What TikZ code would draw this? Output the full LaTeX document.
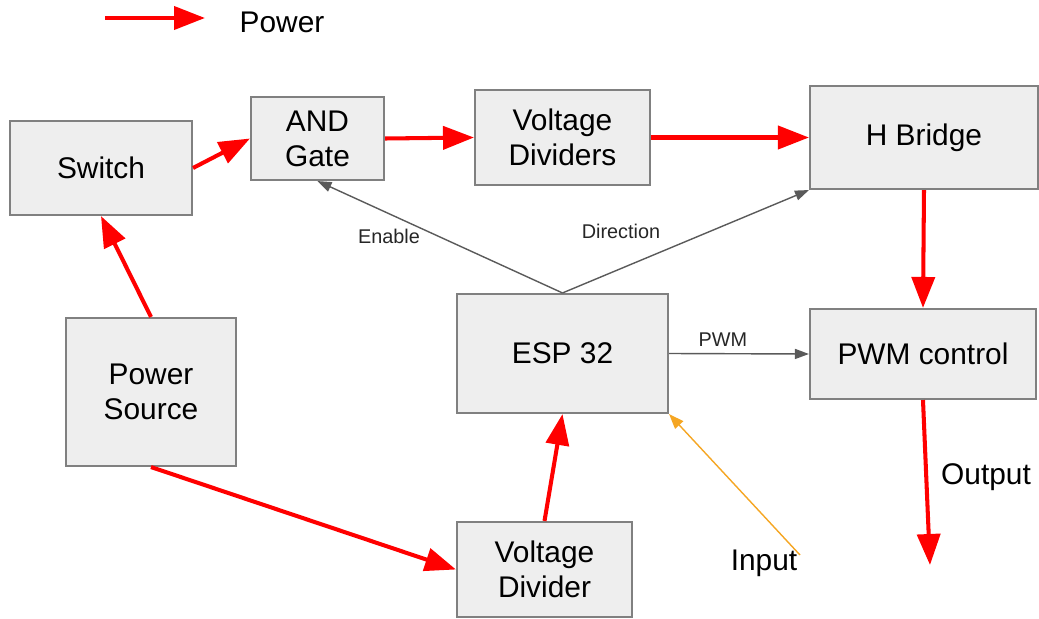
\documentclass[tikz,border=0pt]{standalone}
\usepackage{fontspec}
\setmainfont{Liberation Sans}
\usetikzlibrary{arrows.meta}
\definecolor{boxfill}{HTML}{EEEEEE}
\definecolor{boxline}{HTML}{808080}
\definecolor{sigline}{HTML}{5A5A5A}
\definecolor{pwrred}{HTML}{FF0000}
\definecolor{inorange}{HTML}{F5A623}
\tikzset{
  block/.style={draw=boxline, line width=1.2pt, fill=boxfill, align=center,
    font=\fontsize{17}{20}\selectfont, inner sep=0pt},
  power/.style={draw=pwrred, line width=2.3pt, -{Triangle[length=0.62cm, width=0.46cm]}},
  signal/.style={draw=sigline, line width=0.8pt, -{Triangle[length=0.28cm, width=0.2cm]}},
  label/.style={font=\fontsize{11.3}{13}\selectfont, text=black!85}
}

\begin{document}
\begin{tikzpicture}[x=0.02cm, y=-0.02cm]
                \useasboundingbox (0, 0) rectangle (1039, 619);
                % Blocks:
                \node[block, minimum width=3.64cm, minimum height=1.88cm] (switch) at (101, 168) {Switch};
                \node[block, minimum width=2.66cm, minimum height=1.66cm] (andgate) at (317.5, 138.5) {AND\\Gate};
                \node[block, minimum width=3.5cm, minimum height=1.9cm] (dividers) at (562.5, 137.5) {Voltage\\Dividers};
                \node[block, minimum width=4.56cm, minimum height=2.06cm] (hbridge) at (924, 137.5) {H Bridge};
                \node[block, minimum width=3.4cm, minimum height=2.96cm] (source) at (151, 392) {Power\\Source};
                \node[block, minimum width=4.22cm, minimum height=2.38cm] (esp) at (562.5, 353.5) {ESP 32};
                \node[block, minimum width=4.52cm, minimum height=1.8cm] (pwmctl) at (923, 354) {PWM control};
                \node[block, minimum width=3.5cm, minimum height=1.9cm] (divider) at (544.5, 569.5) {Voltage\\Divider};
                % Free ends:
                \coordinate (legA) at (105, 18);
                \coordinate (legB) at (205, 18);
                \coordinate (outend) at (930, 565);
                \coordinate (inend) at (800, 555);
                % Legend:
                \draw[power] (legA) -- (legB);
                \node[font=\fontsize{17}{20}\selectfont] (legtext) at (282, 22) {Power};
                % Power wires:
                \draw[power] (source.north) -- (switch.south);
                \draw[power] (switch.east) -- (andgate.west);
                \draw[power] (andgate.east) -- (dividers.west);
                \draw[power] (dividers.east) -- (hbridge.west);
                \draw[power] (hbridge.south) -- (pwmctl.north);
                \draw[power] (pwmctl.south) -- (outend);
                \draw[power] (source.south) -- (divider.west);
                \draw[power] (divider.north) -- (esp.south);
                % Signals:
                \draw[signal] (esp.north) -- (andgate.south);
                \draw[signal] (esp.north) -- (hbridge.south west);
                \draw[signal] (esp.east) -- (pwmctl.west);
                \draw[draw=inorange, line width=0.8pt, -{Triangle[length=0.3cm, width=0.22cm]}] (inend) -- (esp.south east);
                % Labels:
                \node[label] (enable) at (389, 236) {Enable};
                \node[label] (direction) at (621, 231) {Direction};
                \node[label] (pwm) at (723, 340) {PWM};
                \node[font=\fontsize{17}{20}\selectfont] (output) at (986, 477) {Output};
                \node[font=\fontsize{17}{20}\selectfont] (input) at (764, 563) {Input};
            \end{tikzpicture}
\end{document}
